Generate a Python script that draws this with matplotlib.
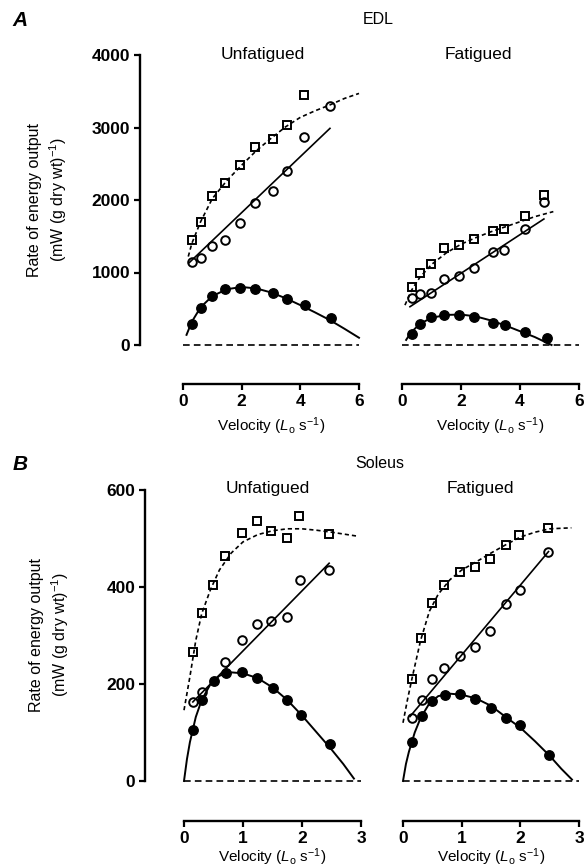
import matplotlib
matplotlib.use("Agg")
import matplotlib.pyplot as plt

plt.rcParams['font.family'] = ['Liberation Sans', 'DejaVu Sans']
plt.rcParams['mathtext.fontset'] = 'custom'
plt.rcParams['mathtext.rm'] = 'Liberation Sans'
plt.rcParams['mathtext.it'] = 'Liberation Sans:italic'
plt.rcParams['mathtext.bf'] = 'Liberation Sans:bold'

# ---- EDL, unfatigued ----
edl_u_x = [0.30, 0.60, 0.98, 1.42, 1.94, 2.46, 3.06, 3.55, 4.14]
edl_u_total = [1450, 1700, 2055, 2230, 2480, 2735, 2845, 3030, 3450]
edl_u_heat_x = [0.30, 0.60, 0.98, 1.42, 1.94, 2.46, 3.06, 3.55, 4.14, 5.02]
edl_u_heat = [1150, 1195, 1370, 1455, 1680, 1960, 2130, 2400, 2870, 3300]
edl_u_power_x = [0.30, 0.60, 0.98, 1.42, 1.94, 2.46, 3.06, 3.55, 4.16, 5.05]
edl_u_power = [290, 515, 680, 768, 782, 768, 713, 630, 552, 368]
# fitted curves
edl_u_total_fit_x = [0.18, 0.3, 0.6, 1.0, 1.5, 2.0, 2.5, 3.0, 3.5, 4.0, 4.5, 5.0, 5.5, 6.0]
edl_u_total_fit = [1220, 1400, 1700, 2020, 2270, 2480, 2680, 2850, 3010, 3140, 3230, 3310, 3400, 3470]
edl_u_heat_fit_x = [0.21, 5.01]
edl_u_heat_fit = [1135, 2988]
edl_u_power_fit_x = [0.12, 0.3, 0.6, 1.0, 1.5, 2.0, 2.5, 3.0, 3.5, 4.0, 4.5, 5.0, 5.5, 6.0]
edl_u_power_fit = [140, 320, 520, 675, 770, 800, 780, 725, 645, 550, 450, 345, 225, 100]

# ---- EDL, fatigued ----
edl_f_x = [0.33, 0.61, 0.98, 1.42, 1.94, 2.44, 3.10, 3.47, 4.17, 4.81]
edl_f_total = [804, 989, 1113, 1333, 1375, 1466, 1577, 1600, 1783, 2069]
edl_f_heat = [644, 703, 713, 906, 951, 1066, 1278, 1310, 1595, 1976]
edl_f_power_x = [0.33, 0.61, 0.98, 1.42, 1.94, 2.45, 3.10, 3.49, 4.17, 4.90]
edl_f_power = [152, 285, 390, 414, 410, 390, 299, 276, 175, 92]
edl_f_total_fit_x = [0.1, 0.33, 0.6, 1.0, 1.5, 2.0, 2.5, 3.0, 3.5, 4.0, 4.5, 5.13]
edl_f_total_fit = [550, 760, 930, 1110, 1270, 1390, 1480, 1560, 1630, 1700, 1770, 1840]
edl_f_heat_fit_x = [0.27, 4.81]
edl_f_heat_fit = [528, 1738]
edl_f_power_fit_x = [0.14, 0.3, 0.6, 1.0, 1.5, 2.0, 2.5, 3.0, 3.5, 4.0, 4.5, 5.07]
edl_f_power_fit = [70, 170, 290, 375, 415, 420, 395, 340, 270, 190, 110, 0]

# ---- Soleus, unfatigued ----
sol_u_x = [0.15, 0.30, 0.49, 0.69, 0.98, 1.23, 1.48, 1.74, 1.95, 2.46]
sol_u_total = [267, 347, 405, 464, 511, 536, 516, 502, 547, 509]
sol_u_heat_x = [0.16, 0.31, 0.69, 0.98, 1.24, 1.48, 1.74, 1.97, 2.46]
sol_u_heat = [162, 184, 246, 291, 324, 330, 339, 414, 436]
sol_u_power_x = [0.16, 0.31, 0.50, 0.71, 0.99, 1.24, 1.50, 1.74, 1.98, 2.47]
sol_u_power = [105, 167, 206, 222, 224, 213, 191, 167, 137, 76]
sol_u_total_fit_x = [0.0, 0.1, 0.2, 0.3, 0.45, 0.6, 0.8, 1.0, 1.25, 1.5, 1.75, 2.0, 2.25, 2.5, 2.93]
sol_u_total_fit = [146, 215, 290, 345, 395, 435, 470, 493, 508, 516, 520, 520, 517, 513, 505]
sol_u_heat_fit_x = [0.15, 2.46]
sol_u_heat_fit = [163, 449]
sol_u_power_fit_x = [0.0, 0.05, 0.1, 0.2, 0.3, 0.45, 0.6, 0.8, 1.0, 1.25, 1.5, 1.75, 2.0, 2.25, 2.5, 2.7, 2.88]
sol_u_power_fit = [0, 45, 80, 132, 167, 200, 217, 224, 222, 212, 193, 167, 135, 100, 65, 35, 5]

# ---- Soleus, fatigued ----
sol_f_x = [0.16, 0.30, 0.49, 0.70, 0.98, 1.23, 1.49, 1.75, 1.98, 2.47]
sol_f_total = [210, 294, 368, 405, 431, 441, 457, 487, 507, 521]
sol_f_heat_x = [0.16, 0.32, 0.50, 0.70, 0.98, 1.23, 1.49, 1.75, 1.99, 2.48]
sol_f_heat = [129, 167, 211, 232, 258, 276, 310, 364, 394, 473]
sol_f_power_x = [0.16, 0.33, 0.50, 0.72, 0.98, 1.23, 1.50, 1.75, 1.99, 2.49]
sol_f_power = [81, 133, 164, 177, 179, 170, 150, 129, 115, 54]
sol_f_total_fit_x = [0.0, 0.08, 0.16, 0.3, 0.45, 0.6, 0.8, 1.0, 1.25, 1.5, 1.75, 2.0, 2.25, 2.5, 2.87]
sol_f_total_fit = [120, 170, 215, 290, 350, 385, 415, 435, 452, 470, 487, 503, 513, 520, 522]
sol_f_heat_fit_x = [0.12, 2.48]
sol_f_heat_fit = [133, 473]
sol_f_power_fit_x = [0.0, 0.05, 0.1, 0.2, 0.3, 0.45, 0.6, 0.8, 1.0, 1.25, 1.5, 1.75, 2.0, 2.25, 2.5, 2.7, 2.88]
sol_f_power_fit = [0, 35, 60, 100, 130, 160, 175, 180, 178, 170, 155, 132, 110, 82, 52, 25, 3]

edl_xticks = [0, 2, 4, 6]
edl_yticks = [0, 1000, 2000, 3000, 4000]
sol_xticks = [0, 1, 2, 3]
sol_yticks = [0, 200, 400, 600]

W, H = 586, 868
fig = plt.figure(figsize=(W / 100, H / 100), dpi=100)


def add_ax(x0, x1, y0, y1):
    return fig.add_axes([x0 / W, 1 - y0 / H, (x1 - x0) / W, (y0 - y1) / H])


def draw_panel(ax, xmax, ymax, xticks, yticks, d, left, yoff, xoff):
    (tx, tot, hx, heat, px, pw, tfx, tf, hfx, hf, pfx, pf) = d
    ax.plot([0, xmax], [0, 0], color='black', lw=1.2, ls=(0, (4, 2.5)), clip_on=False)
    ax.plot(tfx, tf, color='black', lw=1.2, ls=(0, (2.5, 1.8)), clip_on=False)
    ax.plot(hfx, hf, color='black', lw=1.2, clip_on=False)
    ax.plot(pfx, pf, color='black', lw=1.4, clip_on=False)
    ax.plot(tx, tot, ls='none', marker='s', ms=6, mfc='none', mec='black', mew=1.4, clip_on=False)
    ax.plot(hx, heat, ls='none', marker='o', ms=6.2, mfc='none', mec='black', mew=1.4, clip_on=False)
    ax.plot(px, pw, ls='none', marker='o', ms=6.8, mfc='black', mec='black', clip_on=False)
    ax.set_xlim(0, xmax)
    ax.set_ylim(0, ymax)
    for s in ['top', 'right']:
        ax.spines[s].set_visible(False)
    # spine positions reset the ticks, so set them before the tick labels
    ax.spines['bottom'].set_position(('outward', xoff))
    ax.spines['bottom'].set_linewidth(1.7)
    if left:
        ax.spines['left'].set_position(('outward', yoff))
        ax.spines['left'].set_linewidth(1.7)
    else:
        ax.spines['left'].set_visible(False)
    ax.set_xticks(xticks)
    ax.set_yticks(yticks)
    ax.tick_params(axis='both', direction='out', length=4.5, width=1.6, pad=2.5,
                   labelsize=12.5)
    if not left:
        ax.tick_params(axis='y', left=False, labelleft=False)
    for lab in ax.get_xticklabels() + ax.get_yticklabels():
        lab.set_fontweight('bold')
    ax.patch.set_visible(False)


axA1 = add_ax(183, 359, 345, 55)
axA2 = add_ax(402, 579, 345, 55)
axB1 = add_ax(184, 361, 781, 490)
axB2 = add_ax(403, 579, 781, 490)

draw_panel(axA1, 6, 4000, edl_xticks, edl_yticks,
           (edl_u_x, edl_u_total, edl_u_heat_x, edl_u_heat, edl_u_power_x, edl_u_power,
            edl_u_total_fit_x, edl_u_total_fit, edl_u_heat_fit_x, edl_u_heat_fit,
            edl_u_power_fit_x, edl_u_power_fit), True, 31, 28)
draw_panel(axA2, 6, 4000, edl_xticks, edl_yticks,
           (edl_f_x, edl_f_total, edl_f_x, edl_f_heat, edl_f_power_x, edl_f_power,
            edl_f_total_fit_x, edl_f_total_fit, edl_f_heat_fit_x, edl_f_heat_fit,
            edl_f_power_fit_x, edl_f_power_fit), False, 31, 28)
draw_panel(axB1, 3, 600, sol_xticks, sol_yticks,
           (sol_u_x, sol_u_total, sol_u_heat_x, sol_u_heat, sol_u_power_x, sol_u_power,
            sol_u_total_fit_x, sol_u_total_fit, sol_u_heat_fit_x, sol_u_heat_fit,
            sol_u_power_fit_x, sol_u_power_fit), True, 28, 29)
draw_panel(axB2, 3, 600, sol_xticks, sol_yticks,
           (sol_f_x, sol_f_total, sol_f_heat_x, sol_f_heat, sol_f_power_x, sol_f_power,
            sol_f_total_fit_x, sol_f_total_fit, sol_f_heat_fit_x, sol_f_heat_fit,
            sol_f_power_fit_x, sol_f_power_fit), False, 28, 29)

vel = r'Velocity ($L_\mathrm{o}$ s$^{-1}$)'
ylab = 'Rate of energy output\n(mW (g dry wt)$^{-1}$)'


def ftext(x, y, s, **kw):
    fig.text(x / W, 1 - y / H, s, ha='center', va='center', **kw)


ftext(20, 20, 'A', fontsize=15, fontweight='bold', style='italic')
ftext(378, 20, 'EDL', fontsize=11.5)
ftext(263, 55, 'Unfatigued', fontsize=12.5)
ftext(478, 55, 'Fatigued', fontsize=12.5)
ftext(48, 200, ylab, fontsize=11.5, rotation=90, linespacing=1.3)
ftext(271, 426, vel, fontsize=11)
ftext(490, 426, vel, fontsize=11)

ftext(20, 464, 'B', fontsize=15, fontweight='bold', style='italic')
ftext(380, 464, 'Soleus', fontsize=11.5)
ftext(268, 489, 'Unfatigued', fontsize=12.5)
ftext(480, 489, 'Fatigued', fontsize=12.5)
ftext(50, 635, ylab, fontsize=11.5, rotation=90, linespacing=1.3)
ftext(272, 857, vel, fontsize=11)
ftext(491, 857, vel, fontsize=11)

fig.savefig('out.png', dpi=100)
